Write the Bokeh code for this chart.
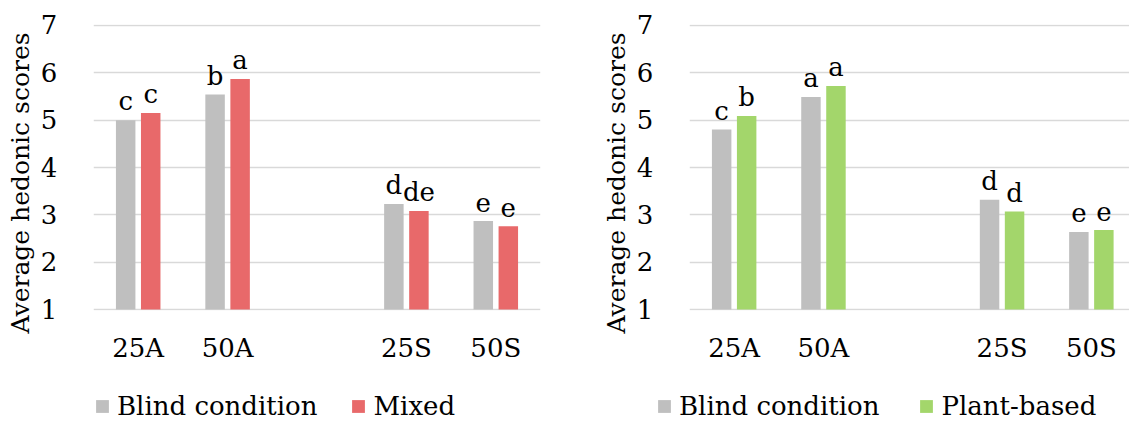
from bokeh.embed import file_html
from bokeh.core.properties import value
from bokeh.layouts import column, row
from bokeh.models import ColumnDataSource, FixedTicker, Legend, LegendItem, Range1d, Title
from bokeh.plotting import figure
from bokeh.resources import INLINE

# Category slots along the x axis (the empty slot separates the A and S samples)
slots = ["25A", "50A", "", "25S", "50S"]
categories = ["25A", "50A", "25S", "50S"]

# Left panel: blind condition vs. mixed information
blind_left = [5.00, 5.54, 3.23, 2.87]
mixed = [5.15, 5.87, 3.08, 2.76]
blind_left_letters = ["c", "b", "d", "e"]
mixed_letters = ["c", "a", "de", "e"]

# Right panel: blind condition vs. plant-based information
blind_right = [4.80, 5.49, 3.32, 2.64]
plant = [5.09, 5.72, 3.07, 2.68]
blind_right_letters = ["c", "a", "d", "e"]
plant_letters = ["b", "a", "d", "e"]

y_ticks = [1, 2, 3, 4, 5, 6, 7]
y_label = "Average hedonic scores"
blind_name = "Blind condition"

FONT = "DejaVu Serif"
GRAY = "#BFBFBF"
RED = "#E8696A"
GREEN = "#A3D66B"
GRID = "#D9D9D9"

BAR_W = 0.218
SHIFT = 0.14
CHART_H = 378
LEGEND_H = 43


def make_chart(blind, other, blind_letters, other_letters, other_color,
               width, border_left, border_right, x_end):
    xpos = [slots.index(c) for c in categories]
    p = figure(width=width, height=CHART_H,
               x_range=Range1d(-0.5, x_end), y_range=Range1d(0.98, 7.02),
               output_backend="svg", toolbar_location=None,
               min_border_left=border_left, min_border_right=border_right,
               min_border_top=24, min_border_bottom=CHART_H - 310)
    p.outline_line_color = None
    p.background_fill_color = "white"
    p.border_fill_color = "white"

    p.xgrid.visible = False
    p.ygrid.ticker = FixedTicker(ticks=y_ticks)
    p.ygrid.grid_line_color = GRID
    p.ygrid.grid_line_width = 1.6

    ya = p.yaxis[0]
    ya.ticker = FixedTicker(ticks=y_ticks)
    # a leading space widens the label column so the title sits further out
    ya.major_label_overrides = {t: " " + str(t) for t in y_ticks}
    ya.axis_line_color = None
    ya.major_tick_line_color = None
    ya.minor_tick_line_color = None
    ya.major_tick_out = 0
    ya.major_label_standoff = 28
    ya.major_label_text_font = FONT
    ya.major_label_text_font_size = "26px"
    ya.major_label_text_color = "black"

    xa = p.xaxis[0]
    xa.ticker = FixedTicker(ticks=xpos)
    xa.major_label_overrides = {x: c for x, c in zip(xpos, categories)}
    xa.axis_line_color = None
    xa.major_tick_line_color = None
    xa.minor_tick_line_color = None
    xa.major_tick_out = 0
    xa.major_label_standoff = 22
    xa.major_label_text_font = FONT
    xa.major_label_text_font_size = "26px"
    xa.major_label_text_color = "black"

    src_b = ColumnDataSource(dict(x=[x - SHIFT for x in xpos], top=blind, lab=blind_letters))
    src_o = ColumnDataSource(dict(x=[x + SHIFT for x in xpos], top=other, lab=other_letters))

    p.vbar(x="x", top="top", bottom=y_ticks[0], width=BAR_W, source=src_b,
           fill_color=GRAY, line_color=None)
    p.vbar(x="x", top="top", bottom=y_ticks[0], width=BAR_W, source=src_o,
           fill_color=other_color, line_color=None)

    for src in (src_b, src_o):
        p.text(x="x", y="top", text="lab", source=src,
               text_font=value(FONT), text_font_size="26px", text_color="black",
               text_align="center", text_baseline="alphabetic", y_offset=-19)

    # vertical axis title, starting a little below the frame bottom
    p.add_layout(Title(text=y_label, align="left", offset=-23, standoff=6,
                       text_font=FONT, text_font_size="25px", text_color="black",
                       text_font_style="normal"), "left")
    return p


def make_legend(blind, other, other_name, other_color, width, legend_x, legend_spacing):
    lg = figure(width=width, height=LEGEND_H, x_range=Range1d(0, 1), y_range=Range1d(0, 1),
                output_backend="svg", toolbar_location=None, min_border=0)
    lg.axis.visible = False
    lg.grid.visible = False
    lg.outline_line_color = None
    # hidden copies of the two series supply the legend swatches
    xpos = [slots.index(c) for c in categories]
    swatch_b = lg.vbar(x=xpos, top=blind, width=BAR_W, fill_color=GRAY, line_color=None,
                       visible=False)
    swatch_o = lg.vbar(x=xpos, top=other, width=BAR_W, fill_color=other_color, line_color=None,
                       visible=False)
    legend = Legend(items=[LegendItem(label=blind_name, renderers=[swatch_b]),
                           LegendItem(label=other_name, renderers=[swatch_o])],
                    location=(legend_x, 0), orientation="horizontal",
                    glyph_width=16, glyph_height=16, label_standoff=7,
                    spacing=legend_spacing, padding=0, margin=0,
                    label_text_font=FONT, label_text_font_size="26px",
                    label_text_color="black",
                    border_line_color=None, background_fill_alpha=0)
    lg.add_layout(legend)
    return lg


left = make_chart(blind_left, mixed, blind_left_letters, mixed_letters, RED,
                  width=570, border_left=92, border_right=30, x_end=4.5)
right = make_chart(blind_right, plant, blind_right_letters, plant_letters, GREEN,
                   width=559, border_left=119, border_right=0, x_end=4.427)
left_legend = make_legend(blind_left, mixed, "Mixed", RED, 570, 94, 33)
right_legend = make_legend(blind_right, plant, "Plant-based", GREEN, 559, 86, 39)

layout = column(row(left, right), row(left_legend, right_legend))
open("out.html", "w").write(file_html(layout, INLINE))
